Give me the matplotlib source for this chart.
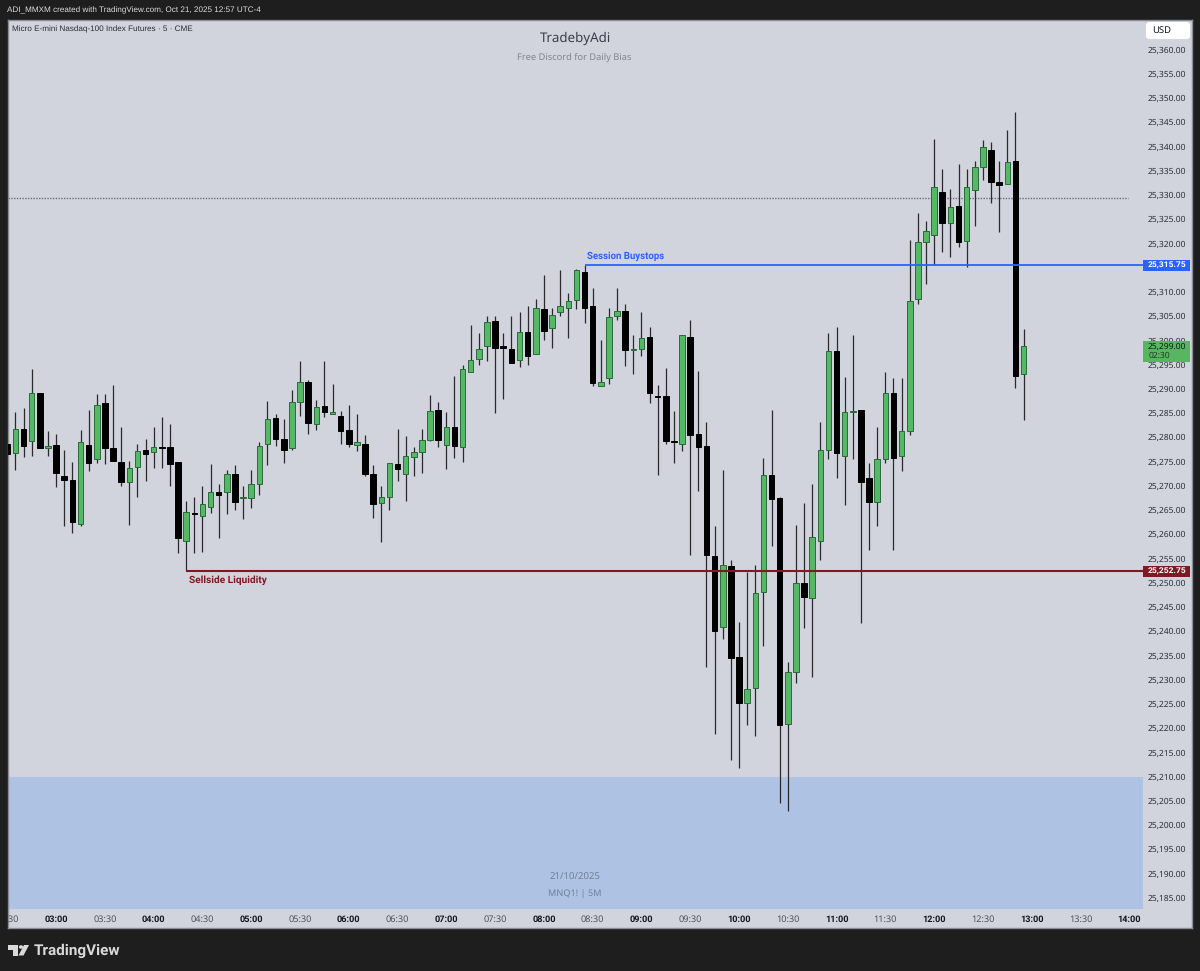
import matplotlib
matplotlib.use('Agg')
import matplotlib.pyplot as plt
import numpy as np
from matplotlib.patches import Rectangle, Circle, Polygon, FancyBboxPatch
from matplotlib.transforms import blended_transform_factory

W, H = 1200, 971

# prices are offsets from 25,000, one entry per 5 minute bar starting at 02:30
BASE = 25000
opens = [279, 277, 282, 279.5, 289.5, 278, 278.75, 272.25, 271.5, 262.5, 278.75, 275.75, 287.25, 278, 275.25, 271,
         274.25, 277.75, 277.25, 278.25, 278.25, 275.25, 259, 264.75, 264, 266, 269, 269, 272.75, 267.75, 267.75, 270.75,
         279, 284.25, 280, 278, 287.5, 291.75, 283, 286.75, 285, 284.75, 281.75, 278.75, 279, 272.75, 266.75, 268,
         274.75, 272.75, 276.25, 277.25, 279.75, 286, 278.75, 282.5, 278.25, 293.75, 296.5, 299, 304.25, 299, 298.5, 296.25,
         302, 297.5, 306.75, 302.75, 306, 307, 308.5, 314.25, 307.25, 290.75, 292.5, 305.25, 306.25, 298.25, 298.5, 301,
         288.75, 288.75, 279.5, 279, 301, 281, 278.5, 255.75, 241.25, 253.75, 235, 225.5, 228.75, 248.5, 272.5, 267.75,
         221.25, 232, 250.25, 247.25, 259, 277.75, 298, 276.5, 285.5, 286, 272, 267, 275.75, 289.5, 276.5, 281.5,
         308.75, 320.5, 322, 330.75, 324.5, 328, 320.75, 331.25, 336, 339.5, 332.75, 332.5, 337.25, 293.25]
highs = [287.25, 285.5, 286.25, 294.25, 289.5, 281.5, 281, 277.75, 275.25, 281.75, 286, 289.25, 289.25, 291, 282.5, 275.5,
         279, 280, 282.5, 284.5, 283, 275.25, 267.25, 268, 270.25, 274.75, 270.75, 273.5, 274.5, 270.25, 273.5, 279.25,
         287.75, 285, 284, 290, 296, 292, 288, 296, 291.25, 285.75, 287, 285, 280.75, 274.5, 270.25, 275,
         282, 280.5, 278.25, 282, 289, 287.5, 285.5, 293, 295.25, 303.5, 301.75, 305.25, 305.25, 301.75, 305.25, 306,
         307.25, 308.75, 313.75, 307, 314.75, 310, 315, 315.75, 311, 300.25, 307, 311, 307.75, 301.25, 306, 303,
         291, 294.5, 285.75, 301.25, 304.5, 294, 283.5, 262, 273.5, 255, 242.25, 252.5, 254, 276, 286, 268,
         234, 262.25, 266.75, 270.75, 283.5, 301.75, 303, 292.75, 301.25, 286, 275, 282.5, 293.75, 292.5, 292.5, 321,
         326.5, 324.75, 341.75, 335.5, 331.5, 336.5, 335.5, 337.25, 341.5, 341, 337.25, 343.5, 347.25, 302.5]
lows = [274, 273.5, 276.25, 276.5, 278, 276.5, 270, 262, 260.5, 262, 273.25, 275, 274.75, 275.5, 270.25, 262.25,
        268, 271.25, 274, 274, 270.25, 256.5, 253, 256.5, 256.75, 264.75, 259.5, 264.5, 265.25, 263.5, 265.75, 268.5,
        274.5, 278.5, 275, 277.75, 284.75, 281, 281.75, 284.5, 285, 279, 278.25, 277.5, 272.25, 263.75, 258.75, 265.25,
        271.25, 267.25, 272.25, 273, 279.5, 278.25, 273.75, 276, 275.25, 293.75, 295.25, 296, 285.25, 288.25, 295.5, 294.75,
        295.25, 297.5, 300.25, 298.75, 305.25, 300.75, 306.75, 303.75, 290.75, 290.75, 291.25, 304.5, 295, 293.25, 297, 287.25,
        272.5, 279, 275, 277.5, 256, 269.25, 233, 219.25, 238.75, 213.75, 212.25, 221, 218.75, 237.25, 258, 205,
        203.25, 229.75, 241, 231, 255, 275.75, 272, 266.25, 275.75, 242, 257, 262, 275, 257, 273.25, 280.75,
        307.75, 311.75, 315.75, 318.5, 317.5, 319.5, 315.25, 323.75, 333.25, 328.5, 322.5, 332.5, 290.5, 283.75]
closes = [276.75, 282, 278.5, 289.5, 278, 278.5, 273, 271.5, 262.75, 279.25, 275, 287, 278, 275.5, 271, 274,
          277.5, 276.75, 278.25, 278, 274.75, 259.5, 265, 264.5, 266.5, 269, 268.5, 272.75, 267, 268, 270.75, 278.5,
          284, 280, 277.75, 287.5, 291.75, 283.25, 286.5, 285.5, 285.5, 281.5, 279, 279.25, 272.75, 266.5, 268, 275,
          273.75, 276.5, 277.25, 279.75, 285.75, 279.75, 282.5, 278.5, 294.25, 296.25, 298.5, 304, 298.75, 298.75, 295.5, 302,
          297, 307, 302.25, 305.5, 307.25, 308.25, 314.75, 307, 291.5, 291.75, 305, 306.25, 298.25, 298.5, 300.75, 289.5,
          288.5, 279.5, 279.25, 301.25, 280.75, 278.25, 256, 240.5, 254, 234.75, 225.5, 228.5, 248.25, 272.5, 267.5, 221,
          232, 250.25, 247.5, 259.75, 277.75, 298, 277, 285.5, 285.75, 271, 267, 275.75, 289.5, 276, 281.5, 308.25,
          320.5, 322.75, 331.75, 324.5, 327.75, 320.5, 331.75, 336, 340, 332.75, 332.25, 337, 293, 299]

# 25,315 sits fully under the blue price tag, so it is not listed
price_ticks = [p for p in range(25185, 25365, 5) if p != 25315]
time_labels = ['02:30', '03:00', '03:30', '04:00', '04:30', '05:00', '05:30', '06:00', '06:30', '07:00', '07:30', '08:00',
               '08:30', '09:00', '09:30', '10:00', '10:30', '11:00', '11:30', '12:00', '12:30', '13:00', '13:30', '14:00']

buystops_price = 25315.75
sellside_price = 25252.75
last_price = 25299.00
dotted_price = 25329.5
zone_top = 25210.25

BG = '#1e1e1e'
PANEL = '#d1d4dc'
GREEN = '#55b865'
GREEN_EDGE = '#2a6a39'
BLUE = '#2962ff'
RED = '#7f1a24'
FONT = 'Noto Sans'
BOLD_FONT = 'Roboto'

plt.rcParams['font.family'] = FONT
plt.rcParams['text.hinting'] = 'no_hinting'


def figx(x):
    return x / W


def figy(y):
    return 1 - y / H


fig = plt.figure(figsize=(W / 100, H / 100), dpi=100, facecolor=BG)
ax = fig.add_axes([figx(7.5), figy(928), figx(1192 - 7.5), (928 - 20) / H], facecolor=PANEL)
ax.set_xlim(0.02, 145.72)
ax.set_ylim(25179.25, 25366.2)
ax.set_xticks([])
ax.set_yticks([])
for s in ax.spines.values():
    s.set_color('#8a8d95')
    s.set_linewidth(1)

bar_x = np.arange(len(opens))
o = np.array(opens) + BASE
h = np.array(highs) + BASE
l = np.array(lows) + BASE
c = np.array(closes) + BASE

# bottom zone stops at the price and time axes
right_edge = 139.7
ax.fill_between([0.02, right_edge], 25183.1, zone_top, color='#aec3e4', lw=0, zorder=1)

ax.hlines(dotted_price, 0.02, 137.8, color='#6a6e78', lw=1, ls=(0, (1, 1)), zorder=1.5)

ax.vlines(bar_x, l, h, color='#2a2a2e', lw=0.9, zorder=2)
up = c >= o
body_bottom = np.minimum(o, c)
body_height = np.maximum(np.abs(c - o), 0.25)
ax.bar(bar_x[up], body_height[up], bottom=body_bottom[up], width=0.68, color=GREEN,
       edgecolor=GREEN_EDGE, linewidth=0.7, zorder=3)
ax.bar(bar_x[~up], body_height[~up], bottom=body_bottom[~up], width=0.68, color='black',
       edgecolor='black', linewidth=0.7, zorder=3)

# level lines
ax.plot([71, right_edge], [buystops_price, buystops_price], color=BLUE, lw=1.3, zorder=4, solid_capstyle='butt')
ax.plot([22, right_edge], [sellside_price, sellside_price], color=RED, lw=1.5, zorder=4, solid_capstyle='butt')
ax.text(71.3, buystops_price + 0.9, 'Session Buystops', color=BLUE, fontsize=6.9, fontweight='bold',
        family=BOLD_FONT, ha='left', va='bottom', zorder=5)
ax.text(22.4, sellside_price - 0.9, 'Sellside Liquidity', color=RED, fontsize=7.3, fontweight='bold',
        family=BOLD_FONT, ha='left', va='top', zorder=5)

# price axis, its labels run on a slightly tighter step than the candles
ytrans = blended_transform_factory(fig.transFigure, ax.transData)
for p in price_ticks:
    ax.text(figx(1167), p + 0.3 - 0.0021 * (p - price_ticks[0]), f'{p:,.2f}', transform=ytrans, fontsize=6.1,
            color='#2a2e39', ha='center', va='center', zorder=5)

# time axis
xtrans = blended_transform_factory(ax.transData, fig.transFigure)
for lab in time_labels:
    hh, mm = lab.split(':')
    pos = ((int(hh) * 60 + int(mm)) - 150) / 5
    if mm == '00':
        ax.text(pos, figy(919), lab, transform=xtrans, fontsize=6.6, ha='center', va='center', color='#131722',
                family=BOLD_FONT, fontweight='bold', zorder=5)
    else:
        ax.text(pos, figy(919), lab, transform=xtrans, fontsize=6.6, ha='center', va='center', color='#50535e',
                clip_on=True, zorder=5)


# price tag boxes on top of the axis labels
def price_tag(y0, y1, color):
    fig.add_artist(Rectangle((figx(1143), figy(y1)), (1190 - 1143) / W, (y1 - y0) / H, transform=fig.transFigure,
                             facecolor=color, edgecolor='none', zorder=6))


price_tag(259.5, 271, BLUE)
price_tag(565.5, 577, RED)
price_tag(341, 362, '#58b560')
fig.text(figx(1167), figy(265.2), f'{buystops_price:,.2f}', color='white', fontsize=6.1, fontweight='bold',
         family=BOLD_FONT, ha='center', va='center', zorder=7)
fig.text(figx(1167), figy(571.2), f'{sellside_price:,.2f}', color='white', fontsize=6.1, fontweight='bold',
         family=BOLD_FONT, ha='center', va='center', zorder=7)
fig.text(figx(1167), figy(346.5), f'{last_price:,.2f}', color='#131722', fontsize=6.1, ha='center', va='center', zorder=7)
fig.text(figx(1149), figy(356), '02:30', color='#1b3d22', fontsize=6.1, ha='left', va='center', zorder=7)

# USD button
fig.add_artist(FancyBboxPatch((figx(1147), figy(38)), 42 / W, 15 / H, boxstyle='round,pad=0,rounding_size=0.002',
                              mutation_aspect=W / H, transform=fig.transFigure, facecolor='white',
                              edgecolor='white', linewidth=1.5, zorder=6))
fig.text(figx(1152), figy(30.5), 'USD', fontsize=6.8, color='#131722', ha='left', va='center', zorder=7)

# header and watermark text
fig.text(figx(7), figy(10.5), 'ADI_MMXM created with TradingView.com, Oct 21, 2025 12:57 UTC-4', color='#dcdcdc',
         fontsize=5.9, family='Liberation Sans', ha='left', va='center')
fig.text(figx(12), figy(29.5), 'Micro E-mini Nasdaq-100 Index Futures \u00b7 5 \u00b7 CME', color='#2a2e39',
         fontsize=5.85, family='Liberation Sans', ha='left', va='center')
fig.text(figx(575), figy(38), 'TradebyAdi', color='#3a3f4c', fontsize=9.6, ha='center', va='center')
fig.text(figx(574), figy(57), 'Free Discord for Daily Bias', color='#81858f', fontsize=6.7, ha='center', va='center')
fig.text(figx(575), figy(877), '21/10/2025', color='#6f7f99', fontsize=6.9, ha='center', va='center')
fig.text(figx(575), figy(894), 'MNQ1! | 5M', color='#6f7f99', fontsize=6.6, ha='center', va='center')

# TradingView logo
logo = '#d9d9d9'
def px_poly(points):
    fig.add_artist(Polygon([(figx(x), figy(y)) for x, y in points], closed=True, transform=fig.transFigure,
                           facecolor=logo, edgecolor='none'))


px_poly([(8, 945), (18, 945), (18, 955.5), (13, 955.5), (13, 949.5), (8, 949.5)])
px_poly([(24, 945), (29, 945), (23.5, 955.5), (18.5, 955.5)])
fig.add_artist(Circle((figx(21), figy(947)), 2.2 / W, transform=fig.transFigure, facecolor=logo, edgecolor='none'))
fig.text(figx(34), figy(950.5), 'TradingView', color='#d9d9d9', fontsize=11, fontweight='bold',
         family=BOLD_FONT, ha='left', va='center')

fig.savefig('out.png', dpi=100, facecolor=BG)
